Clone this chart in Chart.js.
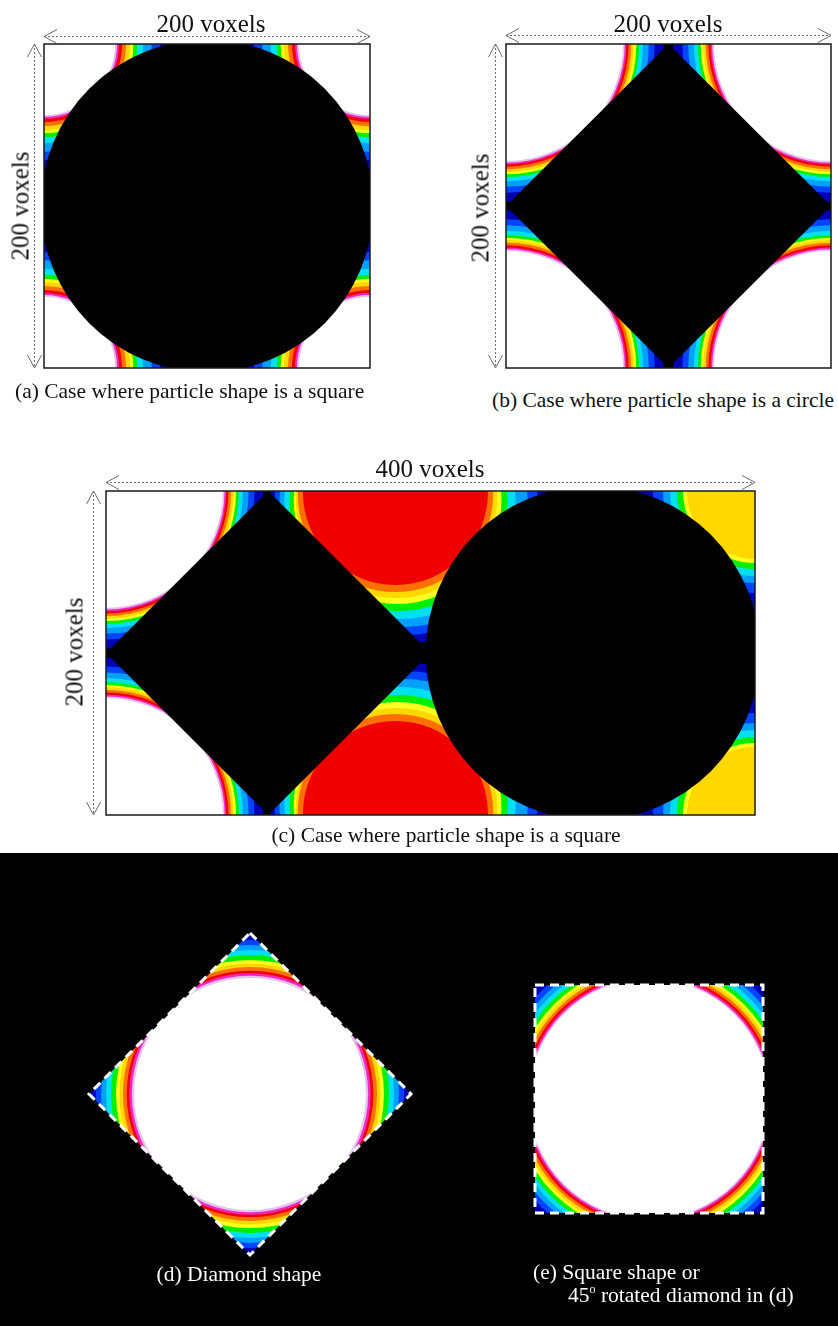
<!DOCTYPE html>
<html>
<head>
<meta charset="utf-8">
<script src="https://cdn.jsdelivr.net/npm/chart.js@4.4.1/dist/chart.umd.min.js"></script>
<style>
  html, body { margin: 0; padding: 0; background: #fff; }
  #page { position: relative; width: 838px; height: 1326px; overflow: hidden;
          font-family: "Liberation Serif", "Times New Roman", serif; color: #111; }
  #dark { position: absolute; left: 0; top: 853px; width: 838px; height: 473px; background: #000; }
  canvas { position: absolute; }
  .t { position: absolute; white-space: nowrap; line-height: 1; z-index: 5; }
  .dim { font-size: 25px; }
  .cap { font-size: 21.5px; }
  .mid { transform: translateX(-50%); }
  .rot { transform: translate(-50%, -50%) rotate(-90deg); }
  .w { color: #fff; }
  sup { font-size: 12px; vertical-align: 0; position: relative; top: -9px; }
</style>
</head>
<body>
<div id="page">
  <div id="dark"></div>

  <canvas id="cA" width="380" height="380" style="left:0px;top:0px"></canvas>
  <canvas id="cB" width="378" height="380" style="left:460px;top:0px"></canvas>
  <canvas id="cC" width="790" height="390" style="left:40px;top:440px"></canvas>
  <canvas id="cD" width="380" height="380" style="left:60px;top:900px"></canvas>
  <canvas id="cE" width="300" height="300" style="left:500px;top:950px"></canvas>

  <div class="t dim mid" style="left:211px;top:11px">200 voxels</div>
  <div class="t dim rot" style="left:20px;top:206px">200 voxels</div>
  <div class="t cap" style="left:15px;top:381px">(a) Case where particle shape is a square</div>

  <div class="t dim mid" style="left:668px;top:11px">200 voxels</div>
  <div class="t dim rot" style="left:480px;top:208px">200 voxels</div>
  <div class="t cap" style="left:492px;top:390px">(b) Case where particle shape is a circle</div>

  <div class="t dim mid" style="left:430px;top:456px">400 voxels</div>
  <div class="t dim rot" style="left:74px;top:652px">200 voxels</div>
  <div class="t cap mid" style="left:446px;top:825px">(c) Case where particle shape is a square</div>

  <div class="t cap mid w" style="left:239px;top:1264px">(d) Diamond shape</div>
  <div class="t cap w" style="left:533px;top:1262px">(e) Square shape or</div>
  <div class="t cap w" style="left:568px;top:1285px">45<sup>o</sup> rotated diamond in (d)</div>
</div>

<script>
// Colour levels of the distance bands, from the particle surface outwards.
const bandColors = ['#ffffff', '#e2c4ea', '#f028c8', '#f00000', '#ff7000', '#ffd800',
                    '#ffff20', '#00f000', '#00e0f0', '#00a0ff', '#0044ff', '#0000b8'];

// (a) square cell, 200 x 200 voxels: outer radius of each level around the corner particles
const aCorners = [[0, 0], [200, 0], [0, 200], [200, 200]];
const aCornerRadii = [43.6, 44.8, 46.0, 47.9, 50.3, 52.8, 54.8, 57.2, 60.9, 66.1, 71.2, 79.0];
const aCentre = [100, 100];
const aCentreRadius = 102;

// (b) square cell with a diamond particle
const bCorners = [[0, 0], [200, 0], [0, 200], [200, 200]];
const bCornerRadii = [72.0, 73.1, 74.1, 75.5, 77.1, 78.7, 80.2, 81.9, 84.4, 87.9, 91.5, 97.0];
const bDiamond = [[100, 0], [200, 100], [100, 200], [0, 100], [100, 0]];

// (c) 400 x 200 voxel cell
const cWhiteCorners = [[0, 0], [0, 200]];
const cWhiteRadii = bCornerRadii;
const cDiamond = [[0, 100], [100, 0], [200, 100], [100, 200], [0, 100]];
// red particles on the top and bottom edges: each level has its own ring centre
const cRedLevels = [3, 4, 5, 6, 7, 8, 9, 10, 11];
const cRedX = [178.4, 178.4, 179.0, 179.7, 180.3, 181.2, 183.4, 184.9, 186.7];
const cRedDepth = [0.9, 2.1, 3.9, 5.6, 6.8, 7.6, 7.3, 7.6, 8.3];      // offset from the edge
const cRedR = [57.0, 60.2, 62.1, 64.0, 67.2, 71.3, 76.5, 81.1, 85.4];
const cCircle = [300, 100];
const cCircleRadius = 103;
const cYellowCorners = [[400, 0], [400, 200]];
const cYellowRadii = [41.9, 44.4, 48.1, 52.4, 56.7, 62.9, 73.3];                    // levels 5..11

// (d) diamond and (e) square containers around one round particle
const dCentre = [[100, 100]];
const dRadii = [72.0, 73.4, 75.0, 76.6, 78.9, 81.1, 83.2, 86.3, 89.4, 92.5, 95.7, 101];
const dDiamond = [[100, 0], [200, 100], [100, 200], [0, 100], [100, 0]];
const dMasks = [
  [[0, 0], [100, 0], [0, 100], [0, 0]],
  [[100, 0], [200, 0], [200, 100], [100, 0]],
  [[200, 100], [200, 200], [100, 200], [200, 100]],
  [[0, 100], [0, 200], [100, 200], [0, 100]]
];
const eSide = 141.4;
const eCentre = [[70.7, 70.7]];
const eRadii = [74.5, 75.4, 76.5, 78.0, 79.7, 81.4, 83.2, 85.6, 88.3, 91.3, 94.6, 101];
const eSquare = [[0, 0], [eSide, 0], [eSide, eSide], [0, eSide], [0, 0]];

// ---------- helpers ----------
function pxRadius(chart, v) {
  const s = chart.scales && chart.scales.x;
  if (!s) return 0;
  const r = Math.abs(s.getPixelForValue(v) - s.getPixelForValue(0));
  return isFinite(r) ? r : 0;
}

function ringDataset(data, order) {
  return {
    type: 'scatter', data, order, clip: 0,
    pointRadius: c => (c.raw ? pxRadius(c.chart, c.raw.v) : 0),
    pointHoverRadius: c => (c.raw ? pxRadius(c.chart, c.raw.v) : 0),
    pointBackgroundColor: c => (c.raw ? bandColors[c.raw.c] : '#000'),
    pointBorderWidth: 0, pointHoverBorderWidth: 0
  };
}

// Concentric discs around each centre, outermost band first so inner ones sit on top.
function rings(centres, firstLevel, radii, order) {
  const data = [];
  for (let k = radii.length - 1; k >= 0; k--) {
    centres.forEach(([x, y]) => data.push({x, y, v: radii[k], c: firstLevel + k}));
  }
  return ringDataset(data, order);
}

// Discs with one centre per level, mirrored onto the top and bottom edge of a cell.
function edgeRings(levels, xs, depths, radii, yMax, order) {
  const data = [];
  for (let k = radii.length - 1; k >= 0; k--) {
    data.push({x: xs[k], y: depths[k], v: radii[k], c: levels[k]});
    data.push({x: xs[k], y: yMax - depths[k], v: radii[k], c: levels[k]});
  }
  return ringDataset(data, order);
}

function disc(centre, radius, color, order) {
  return {
    type: 'scatter', data: [{x: centre[0], y: centre[1], v: radius}], order, clip: 0,
    pointRadius: c => (c.raw ? pxRadius(c.chart, c.raw.v) : 0),
    pointHoverRadius: c => (c.raw ? pxRadius(c.chart, c.raw.v) : 0),
    pointBackgroundColor: color, pointBorderWidth: 0, pointHoverBorderWidth: 0
  };
}

function polygon(points, color, order) {
  return {
    type: 'line', data: points.map(([x, y]) => ({x, y})), order, clip: 0,
    fill: 'shape', backgroundColor: color, borderWidth: 0, borderColor: color,
    pointRadius: 0, pointHoverRadius: 0, tension: 0
  };
}

function outline(points, order) {
  return {
    type: 'line', data: points.map(([x, y]) => ({x, y})), order, clip: false,
    fill: false, borderColor: '#ffffff', borderWidth: 3, borderDash: [9, 6],
    borderCapStyle: 'butt', pointRadius: 0, pointHoverRadius: 0, tension: 0
  };
}

// Cell background and frame
const framePlugin = {
  id: 'frame',
  beforeDatasetsDraw(chart, args, o) {
    const a = chart.chartArea, ctx = chart.ctx;
    if (o.fill) { ctx.save(); ctx.fillStyle = o.fill; ctx.fillRect(a.left, a.top, a.right - a.left, a.bottom - a.top); ctx.restore(); }
  },
  afterDatasetsDraw(chart, args, o) {
    const a = chart.chartArea, ctx = chart.ctx;
    if (o.stroke) {
      ctx.save(); ctx.strokeStyle = o.stroke; ctx.lineWidth = o.width || 1.5;
      ctx.strokeRect(a.left, a.top, a.right - a.left, a.bottom - a.top); ctx.restore();
    }
  }
};

// Dotted dimension lines with open arrow heads along the top and left of a cell
const dimPlugin = {
  id: 'dims',
  afterDraw(chart, args, o) {
    if (o.top == null && o.left == null) return;
    const ctx = chart.ctx, xs = chart.scales.x, ys = chart.scales.y;
    const x0 = xs.getPixelForValue(xs.min), x1 = xs.getPixelForValue(xs.max);
    const y0 = ys.getPixelForValue(ys.min), y1 = ys.getPixelForValue(ys.max);
    const L = 13, W = 7;
    ctx.save();
    ctx.strokeStyle = '#6a6a6a'; ctx.lineWidth = 1;
    if (o.top != null) {
      const y = Math.min(y0, y1) - o.top + 0.5;
      ctx.setLineDash([2, 2]);
      ctx.beginPath(); ctx.moveTo(x0, y); ctx.lineTo(x1, y); ctx.stroke();
      ctx.setLineDash([]);
      ctx.beginPath();
      ctx.moveTo(x0 + L, y - W); ctx.lineTo(x0, y); ctx.lineTo(x0 + L, y + W);
      ctx.moveTo(x1 - L, y - W); ctx.lineTo(x1, y); ctx.lineTo(x1 - L, y + W);
      ctx.stroke();
    }
    if (o.left != null) {
      const x = x0 - o.left + 0.5;
      const yt = Math.min(y0, y1), yb = Math.max(y0, y1);
      ctx.setLineDash([2, 2]);
      ctx.beginPath(); ctx.moveTo(x, yt); ctx.lineTo(x, yb); ctx.stroke();
      ctx.setLineDash([]);
      ctx.beginPath();
      ctx.moveTo(x - W, yt + L); ctx.lineTo(x, yt); ctx.lineTo(x + W, yt + L);
      ctx.moveTo(x - W, yb - L); ctx.lineTo(x, yb); ctx.lineTo(x + W, yb - L);
      ctx.stroke();
    }
    ctx.restore();
  }
};

function makeChart(id, xMax, yMax, padding, datasets, frame, dims) {
  return new Chart(document.getElementById(id), {
    type: 'scatter',
    data: {datasets},
    plugins: [framePlugin, dimPlugin],
    options: {
      responsive: false, animation: false, devicePixelRatio: 1, events: [],
      layout: {padding, autoPadding: false},
      scales: {
        x: {type: 'linear', min: 0, max: xMax, display: false},
        y: {type: 'linear', min: 0, max: yMax, reverse: true, display: false}
      },
      plugins: {
        legend: {display: false}, tooltip: {enabled: false}, title: {display: false},
        frame, dims
      }
    }
  });
}

// (a)
makeChart('cA', 200, 200, {left: 44, top: 44, right: 10, bottom: 12}, [
  disc(aCentre, aCentreRadius, '#000000', 20),
  rings(aCorners, 0, aCornerRadii, 30)
], {fill: '#000000', stroke: '#1a1a1a', width: 1.5}, {top: 8, left: 10});

// (b)
makeChart('cB', 200, 200, {left: 46, top: 44, right: 7, bottom: 12}, [
  polygon(bDiamond, '#000000', 20),
  rings(bCorners, 0, bCornerRadii, 30)
], {fill: '#000000', stroke: '#1a1a1a', width: 1.5}, {top: 9, left: 11});

// (c)
makeChart('cC', 400, 200, {left: 66, top: 51, right: 75, bottom: 15}, [
  polygon(cDiamond, '#000000', 20),
  disc(cCircle, cCircleRadius, '#000000', 21),
  rings(cWhiteCorners, 0, cWhiteRadii, 30),
  edgeRings(cRedLevels, cRedX, cRedDepth, cRedR, 200, 31),
  rings(cYellowCorners, 5, cYellowRadii, 32)
], {fill: '#000000', stroke: '#1a1a1a', width: 1.5}, {top: 9, left: 13});

// (d)
makeChart('cD', 200, 200, {left: 29, top: 33, right: 29, bottom: 25}, [
  outline(dDiamond, 0),
  ...dMasks.map(m => polygon(m, '#000000', 10)),
  rings(dCentre, 0, dRadii, 30)
], {fill: '#000000'}, {});

// (e)
makeChart('cE', eSide, eSide, {left: 35, top: 35, right: 37, bottom: 37}, [
  outline(eSquare, 0),
  rings(eCentre, 0, eRadii, 30)
], {fill: '#000000'}, {});
</script>
</body>
</html>
